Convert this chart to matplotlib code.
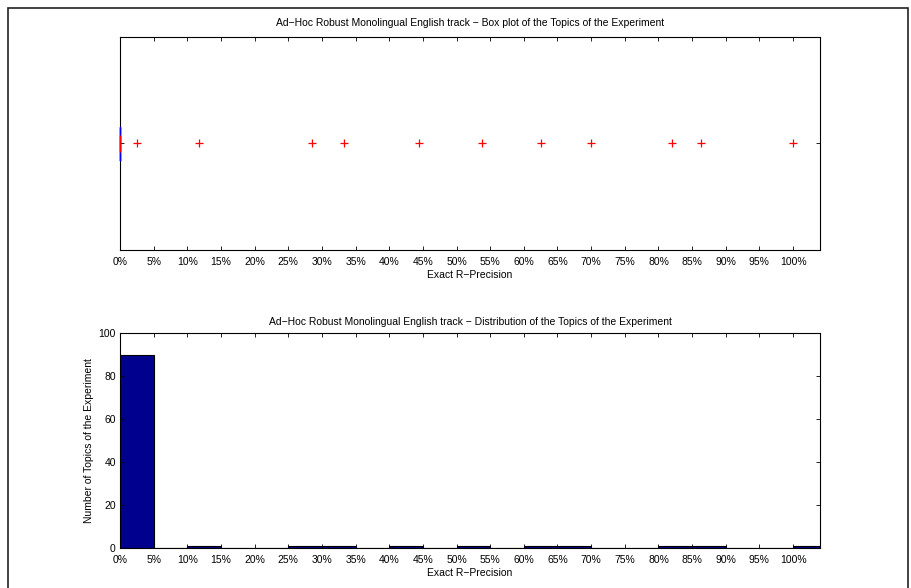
import numpy as np
import matplotlib
matplotlib.use('Agg')
import matplotlib.pyplot as plt
from matplotlib.patches import Rectangle

# === Data: Exact R-Precision per topic ===
n_zero = 89
nonzero_vals = [0.0256, 0.1176, 0.2857, 0.3333, 0.4444, 0.5385, 0.625, 0.70,
                0.8206, 0.8636, 1.0]
topic_vals = np.array([0.0] * n_zero + nonzero_vals)

tick_pos = [i * 0.05 for i in range(21)]
tick_labels = ['%d%%' % (i * 5) for i in range(21)]
hist_edges = np.arange(22) * 0.05

title_box = 'Ad\u2212Hoc Robust Monolingual English track \u2212 Box plot of the Topics of the Experiment'
title_hist = 'Ad\u2212Hoc Robust Monolingual English track \u2212 Distribution of the Topics of the Experiment'
xlab = 'Exact R\u2212Precision'
ylab = 'Number of Topics of the Experiment'

plt.rcParams['font.family'] = ['Liberation Sans', 'DejaVu Sans']
plt.rcParams['font.size'] = 7.5

fig = plt.figure(figsize=(9.12, 5.88), dpi=100)

# outer frame
fig.patches.append(Rectangle((8 / 912, -0.05), 900 / 912, 1.05 - 8 / 588,
                             transform=fig.transFigure, fill=False,
                             edgecolor='#222222', linewidth=1.2))


def matlab_axes(ax):
    ax.tick_params(direction='in', top=True, right=True, length=3,
                   width=0.6, labelsize=7.5)
    ax.tick_params(axis='x', pad=5)
    ax.tick_params(axis='y', pad=3)
    for s in ax.spines.values():
        s.set_linewidth(0.8)


# === Box plot ===
ax1 = fig.add_axes([120 / 912, 1 - 250 / 588, 700 / 912, 213 / 588])
bp = ax1.boxplot(topic_vals, vert=False, positions=[1], widths=0.155,
                 whis=1.5, patch_artist=False,
                 boxprops=dict(color='blue', linewidth=1.0),
                 whiskerprops=dict(color='black', linestyle='--', linewidth=0.6),
                 capprops=dict(color='black', linewidth=0.6),
                 medianprops=dict(color='red', linewidth=1.0),
                 flierprops=dict(marker='+', markeredgecolor='red',
                                 markersize=6, markeredgewidth=0.9))
for med in bp['medians']:
    med.set_ydata([1 - 0.04, 1 + 0.04])
for art in bp['boxes'] + bp['medians']:
    art.set_clip_on(False)
    art.set_zorder(5)
ax1.set_xlim(0, 1.04)
ax1.set_ylim(0.5, 1.5)
ax1.set_yticks([1])
ax1.set_yticklabels([''])
ax1.set_xticks(tick_pos)
ax1.set_xticklabels(tick_labels)
ax1.set_xlabel(xlab, labelpad=2)
ax1.set_title(title_box, fontsize=7.5, pad=8)
matlab_axes(ax1)

# === Histogram ===
counts, _ = np.histogram(topic_vals, bins=hist_edges)
ax2 = fig.add_axes([120 / 912, 1 - 548 / 588, 700 / 912, 215 / 588])
ax2.bar(hist_edges[:-1], counts, width=0.05, align='edge',
        color='#00008F', edgecolor='black', linewidth=0.8)
ax2.set_xlim(0, 1.04)
ax2.set_ylim(0, 100)
ax2.set_yticks([0, 20, 40, 60, 80, 100])
ax2.set_xticks(tick_pos)
ax2.set_xticklabels(tick_labels)
ax2.set_xlabel(xlab, labelpad=2)
ax2.set_ylabel(ylab, labelpad=3)
ax2.set_title(title_hist, fontsize=7.5, pad=6)
matlab_axes(ax2)

plt.savefig('out.png', dpi=100)
